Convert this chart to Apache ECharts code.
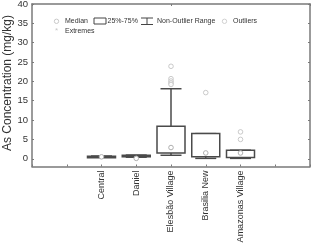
<!DOCTYPE html>
<html><head><meta charset="utf-8">
<script src="https://cdn.jsdelivr.net/npm/echarts@6/dist/echarts.min.js"></script>
<style>html,body{margin:0;padding:0;background:#fff}#c{width:312px;height:244px}</style>
</head><body><div id="c"></div>
<script>
// category slots (empty slots pad the axis like the original frame)
const categories = ["", "", "Central", "Daniel", "Elesbão Village", "Brasilia New", "Amazonas Village", "", ""];
// box statistics per site: [slot, low whisker, Q1, median, Q3, high whisker]
const boxStats = [
  [2, 0.4, 0.45, 0.5, 0.65, 0.7],
  [3, 0.4, 0.6, 0.1, 0.9, 0.95],
  [4, 0.9, 1.5, 2.9, 8.4, 18.1],
  [5, 0.1, 0.5, 1.5, 6.5, 0.1],
  [6, 0.1, 0.3, 1.5, 2.2, 0.2]
];
// outliers: [slot, value]
const outliers = [
  [4, 23.9], [4, 20.7], [4, 20.1], [4, 19.6], [4, 19.2],
  [5, 17.1],
  [6, 6.95], [6, 5.0]
];
const yTicks = [0, 5, 10, 15, 20, 25, 30, 35, 40];
const yTitle = 'As Concentration (mg/kg)';

const chart = echarts.init(document.getElementById('c'), null, {renderer: 'canvas'});
const axisColor = '#7a7a7a';
const font = 'Liberation Sans, Arial, sans-serif';

function renderBox(params, api) {
  const x = api.value(0);
  const lo = api.coord([x, api.value(1)]);
  const q1 = api.coord([x, api.value(2)]);
  const med = api.coord([x, api.value(3)]);
  const q3 = api.coord([x, api.value(4)]);
  const hi = api.coord([x, api.value(5)]);
  const bw = 28, cw = 21;
  const cx = q1[0];
  const stroke = {stroke: '#4a4a4a', lineWidth: 1.5, fill: null};
  const children = [];
  const hiY = Math.min(hi[1], q3[1]);
  const loY = Math.max(lo[1], q1[1]);
  children.push({type: 'line', shape: {x1: cx, y1: q3[1], x2: cx, y2: hiY}, style: stroke});
  children.push({type: 'line', shape: {x1: cx - cw/2, y1: hiY, x2: cx + cw/2, y2: hiY}, style: stroke});
  children.push({type: 'line', shape: {x1: cx, y1: q1[1], x2: cx, y2: loY}, style: stroke});
  children.push({type: 'line', shape: {x1: cx - cw/2, y1: loY, x2: cx + cw/2, y2: loY}, style: stroke});
  children.push({type: 'rect', shape: {x: cx - bw/2, y: q3[1], width: bw, height: Math.max(q1[1] - q3[1], 1.5)}, style: {stroke: '#4a4a4a', lineWidth: 1.5, fill: '#fff'}});
  children.push({type: 'circle', shape: {cx: cx, cy: med[1], r: 2.3}, style: {stroke: '#b0b0b0', lineWidth: 1, fill: '#fff'}});
  return {type: 'group', children: children};
}

const legendText = {fill: '#333', fontSize: 7, fontFamily: font};
chart.setOption({
  animation: false,
  grid: {left: 32, right: 2, top: 4, bottom: 77.5, outerBoundsMode: 'none', containLabel: false},
  xAxis: [{
    type: 'category', data: categories, boundaryGap: false, position: 'bottom',
    axisLine: {onZero: false, lineStyle: {color: axisColor, width: 1.5}},
    axisTick: {inside: true, length: 2, lineStyle: {color: axisColor}},
    axisLabel: {rotate: 90, interval: 0, margin: 4, fontSize: 9, color: '#333', fontFamily: font},
    splitLine: {show: false}
  }, {
    type: 'category', data: categories, boundaryGap: false, position: 'top',
    axisLine: {onZero: false, lineStyle: {color: axisColor, width: 1.5}},
    axisTick: {inside: true, length: 2, lineStyle: {color: axisColor}},
    axisLabel: {show: false}, splitLine: {show: false}
  }],
  yAxis: [{
    type: 'value', min: -2, max: 40, position: 'left',
    axisLine: {show: true, onZero: false, lineStyle: {color: axisColor, width: 1.5}},
    axisTick: {show: true, inside: true, length: 2, customValues: yTicks, lineStyle: {color: axisColor}},
    axisLabel: {customValues: yTicks, margin: 4, fontSize: 9.5, color: '#333', fontFamily: font},
    splitLine: {show: false}
  }, {
    type: 'value', min: -2, max: 40, position: 'right',
    axisLine: {show: true, onZero: false, lineStyle: {color: axisColor, width: 1.5}},
    axisTick: {show: true, inside: true, length: 2, customValues: yTicks, lineStyle: {color: axisColor}},
    axisLabel: {show: false}, splitLine: {show: false}
  }],
  series: [{
    type: 'custom', name: '25%-75%', renderItem: renderBox, data: boxStats,
    encode: {x: 0, y: [1, 2, 3, 4, 5]}, z: 2
  }, {
    type: 'scatter', name: 'Outliers', data: outliers, symbol: 'circle', symbolSize: 4.6,
    itemStyle: {color: '#fff', borderColor: '#bdbdbd', borderWidth: 1}, z: 3
  }],
  graphic: [
    {type: 'text', x: 7.5, y: 83, rotation: Math.PI / 2, style: {text: yTitle, fill: '#333', fontSize: 12, fontFamily: font, align: 'center', verticalAlign: 'middle'}},
    {type: 'circle', shape: {cx: 56.5, cy: 21.3, r: 2.2}, style: {fill: '#fff', stroke: '#c8c8c8', lineWidth: 1}},
    {type: 'text', x: 65, y: 21.3, style: Object.assign({text: 'Median', verticalAlign: 'middle'}, legendText)},
    {type: 'rect', shape: {x: 94, y: 18, width: 12, height: 6}, style: {fill: '#fff', stroke: '#444', lineWidth: 1}},
    {type: 'text', x: 107.5, y: 21.3, style: Object.assign({text: '25%-75%', verticalAlign: 'middle'}, legendText)},
    {type: 'polyline', shape: {points: [[141, 18], [153, 18]]}, style: {stroke: '#444', lineWidth: 1}},
    {type: 'polyline', shape: {points: [[141, 24.5], [153, 24.5]]}, style: {stroke: '#444', lineWidth: 1}},
    {type: 'polyline', shape: {points: [[147, 18], [147, 24.5]]}, style: {stroke: '#444', lineWidth: 1}},
    {type: 'text', x: 157, y: 21.3, style: Object.assign({text: 'Non-Outlier Range', verticalAlign: 'middle'}, legendText)},
    {type: 'circle', shape: {cx: 224.5, cy: 21.3, r: 2.2}, style: {fill: '#fff', stroke: '#d0d0d0', lineWidth: 1}},
    {type: 'text', x: 233, y: 21.3, style: Object.assign({text: 'Outliers', verticalAlign: 'middle'}, legendText)},
    {type: 'text', x: 56.5, y: 30.8, style: {text: '*', fill: '#c8c8c8', fontSize: 8, fontFamily: font, align: 'center', verticalAlign: 'middle'}},
    {type: 'text', x: 65, y: 30.8, style: Object.assign({text: 'Extremes', verticalAlign: 'middle'}, legendText)}
  ]
});
</script></body></html>
